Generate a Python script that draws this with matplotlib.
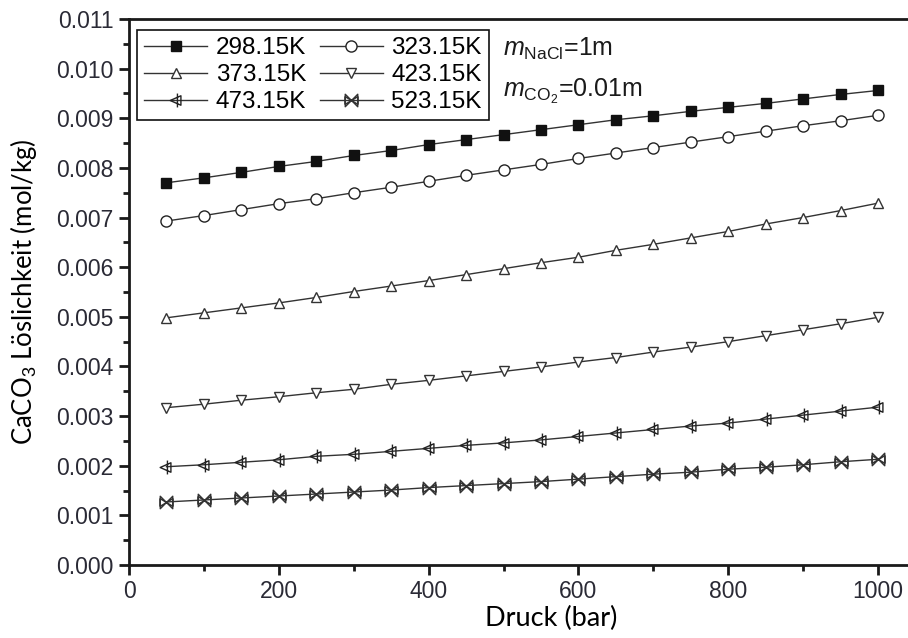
import matplotlib
matplotlib.use('Agg')
import matplotlib.pyplot as plt
from matplotlib.path import Path
from matplotlib.ticker import MultipleLocator

plt.rcParams['font.family'] = ['Liberation Sans', 'DejaVu Sans']
plt.rcParams['mathtext.fontset'] = 'custom'
plt.rcParams['mathtext.rm'] = 'Liberation Sans'
plt.rcParams['mathtext.it'] = 'Liberation Sans:italic'

# Druck in bar
druck = [50, 100, 150, 200, 250, 300, 350, 400, 450, 500,
         550, 600, 650, 700, 750, 800, 850, 900, 950, 1000]

# CaCO3 Löslichkeit (mol/kg)
t298 = [0.00770, 0.00780, 0.00791, 0.00803, 0.00813, 0.00825, 0.00835, 0.00847, 0.00857, 0.00867,
        0.00877, 0.00887, 0.00897, 0.00905, 0.00914, 0.00922, 0.00930, 0.00939, 0.00948, 0.00956]
t323 = [0.00693, 0.00704, 0.00716, 0.00728, 0.00738, 0.00750, 0.00761, 0.00773, 0.00785, 0.00796,
        0.00807, 0.00819, 0.00830, 0.00841, 0.00852, 0.00863, 0.00874, 0.00885, 0.00895, 0.00906]
t373 = [0.00498, 0.00508, 0.00518, 0.00528, 0.00539, 0.00551, 0.00562, 0.00573, 0.00585, 0.00597,
        0.00609, 0.00620, 0.00634, 0.00646, 0.00659, 0.00672, 0.00687, 0.00700, 0.00714, 0.00729]
t423 = [0.00317, 0.00324, 0.00332, 0.00339, 0.00347, 0.00354, 0.00364, 0.00372, 0.00381, 0.00390,
        0.00399, 0.00409, 0.00418, 0.00429, 0.00439, 0.00450, 0.00462, 0.00474, 0.00486, 0.00499]
t473 = [0.00198, 0.00202, 0.00207, 0.00212, 0.00219, 0.00223, 0.00229, 0.00235, 0.00241, 0.00246,
        0.00252, 0.00259, 0.00266, 0.00273, 0.00280, 0.00286, 0.00294, 0.00302, 0.00310, 0.00318]
t523 = [0.00127, 0.00131, 0.00135, 0.00139, 0.00143, 0.00147, 0.00151, 0.00156, 0.00160, 0.00164,
        0.00168, 0.00173, 0.00178, 0.00183, 0.00187, 0.00193, 0.00197, 0.00202, 0.00208, 0.00213]

namen = ['298.15K', '323.15K', '373.15K', '423.15K', '473.15K', '523.15K']

# eigene Marker: Dreieck links mit Strich, Sanduhr mit Kreuz
tri_strich = Path([(-1, 0), (0.7, 0.75), (0.7, -0.75), (-1, 0), (0.15, -1.1), (0.15, 1.1)],
                  [Path.MOVETO, Path.LINETO, Path.LINETO, Path.CLOSEPOLY, Path.MOVETO, Path.LINETO])
sanduhr = Path([(-1, 1), (1, -1), (1, 1), (-1, -1), (-1, 1), (-1, 0.6), (1, -0.6), (1, 0.6), (-1, -0.6), (-1, 0.6)],
               [Path.MOVETO, Path.LINETO, Path.LINETO, Path.LINETO, Path.CLOSEPOLY,
                Path.MOVETO, Path.LINETO, Path.LINETO, Path.LINETO, Path.CLOSEPOLY])

stile = [
    dict(marker='s', ms=6.5, mfc='#111111', mec='#111111'),
    dict(marker='o', ms=8, mfc='white', mec='#222222'),
    dict(marker='^', ms=7, mfc='white', mec='#333333'),
    dict(marker='v', ms=7, mfc='white', mec='#333333'),
    dict(marker=tri_strich, ms=10, mfc='none', mec='#222222'),
    dict(marker=sanduhr, ms=9, mfc='none', mec='#333333'),
]

fig = plt.figure(figsize=(9.08, 6.38), dpi=100)
ax = fig.add_axes([129 / 908, 73 / 638, 786.5 / 908, 546 / 638])

linien = []
for werte, name, st in zip([t298, t323, t373, t423, t473, t523], namen, stile):
    l, = ax.plot(druck, werte, color='#333333', lw=1.0, mew=1.0, label=name, **st)
    linien.append(l)

ax.set_xlim(0, 1050)
ax.set_ylim(0, 0.011)
ax.xaxis.set_major_locator(MultipleLocator(200))
ax.xaxis.set_minor_locator(MultipleLocator(100))
ax.yaxis.set_major_locator(MultipleLocator(0.001))
ax.yaxis.set_minor_locator(MultipleLocator(0.0005))
ax.yaxis.set_major_formatter(matplotlib.ticker.FormatStrFormatter('%.3f'))

for s in ['left', 'bottom', 'top']:
    ax.spines[s].set_linewidth(2.0)
    ax.spines[s].set_color('#1a1a1a')
ax.spines['right'].set_visible(False)
ax.tick_params(which='major', direction='out', length=7, width=2, labelsize=16.5,
               labelcolor='#2a2a35', color='#1a1a1a', pad=4)
ax.tick_params(which='minor', direction='out', length=4, width=2, color='#1a1a1a')

ax.set_xlabel('Druck (bar)', fontsize=19.5, family='Lato')
ax.set_ylabel('CaCO$_3$ Löslichkeit (mol/kg)', fontsize=18.5, family='Lato')
ax.xaxis.set_label_coords(0.537, -0.075)
ax.yaxis.set_label_coords(-0.114, 0.5)

# Legende zeilenweise wie im Original
reihe = [0, 2, 4, 1, 3, 5]
leg = ax.legend([linien[i] for i in reihe], [namen[i] for i in reihe],
                ncol=2, loc='upper left', bbox_to_anchor=(137 / 908, 1 - 30 / 638),
                bbox_transform=fig.transFigure, borderaxespad=0, fontsize=17.5,
                fancybox=False, framealpha=1, edgecolor='#111111',
                handlelength=2.6, handletextpad=0.35, columnspacing=0.55,
                labelspacing=0.2, borderpad=0.3)
leg.get_frame().set_linewidth(1.2)

ax.text(503 / 908, 1 - 49 / 638, r'$\mathit{m}_{\mathrm{NaCl}}$=1m', transform=fig.transFigure,
        fontsize=18, va='center', ha='left', color='#1a1a1a')
ax.text(503 / 908, 1 - 91 / 638, r'$\mathit{m}_{\mathrm{CO_2}}$=0.01m', transform=fig.transFigure,
        fontsize=18, va='center', ha='left', color='#1a1a1a')

fig.savefig('out.png', dpi=100)
